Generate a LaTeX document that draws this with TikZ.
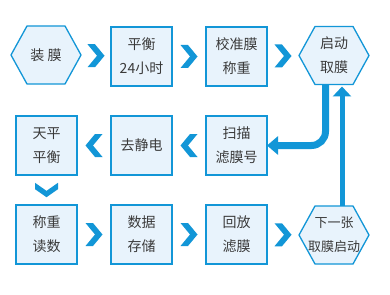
\documentclass[tikz,border=0pt]{standalone}
\usepackage{fontspec}
\setmainfont{Noto Sans CJK SC}
\usetikzlibrary{arrows.meta,calc,backgrounds}
\definecolor{bblue}{RGB}{18,150,215}
\definecolor{bfill}{RGB}{232,243,252}
\definecolor{tgray}{RGB}{58,58,58}
\tikzset{
  boxnode/.style={draw=bblue, fill=bfill, line width=1.3pt, minimum width=61pt, minimum height=59pt,
    inner sep=0pt, outer sep=0pt, align=center, text=tgray, font=\fontsize{14}{24}\selectfont},
  hexnode/.style={minimum width=70pt, minimum height=58pt, inner sep=0pt, outer sep=0pt,
    align=center, text=tgray, font=\fontsize{14}{24}\selectfont},
  hexline/.style={draw=bblue, fill=bfill, line width=1.3pt, line join=miter},
  chev/.pic={\fill[bblue] (-8.5,-11.5) -- (-1,-11.5) -- (8.5,0) -- (-1,11.5) -- (-8.5,11.5) -- (1,0) -- cycle;},
  bigarrow/.style={draw=bblue, line width=7pt, -{Triangle[width=18pt,length=11pt]}},
  bigarrowb/.style={draw=bblue, line width=5pt, -{Triangle[width=18pt,length=10pt]}},
}
\newcommand{\hexpath}[1]{(#1.west) -- ([xshift=16pt]#1.north west) -- ([xshift=-16pt]#1.north east) -- (#1.east) -- ([xshift=-16pt]#1.south east) -- ([xshift=16pt]#1.south west) -- cycle}
\begin{document}
\begin{tikzpicture}[x=1pt,y=-1pt]
\useasboundingbox (0,0) rectangle (390,294);
% row 1
\node[hexnode] (zm) at (46,55) {装 膜};
\node[boxnode] (ph) at (141.5,56.5) {平衡\\24小时};
\node[boxnode] (jz) at (236.5,56.5) {校准膜\\称重};
\node[hexnode] (qm) at (334,55.5) {启动\\取膜};
% row 2
\node[boxnode] (tp) at (46.5,145.5) {天平\\平衡};
\node[boxnode] (qj) at (141.5,145.5) {去静电};
\node[boxnode] (sm) at (236.5,145.5) {扫描\\滤膜号};
% row 3
\node[boxnode] (cz) at (46.5,234.5) {称重\\读数};
\node[boxnode] (sj) at (141.5,234.5) {数据\\存储};
\node[boxnode] (hf) at (236.5,234.5) {回放\\滤膜};
\node[hexnode, font=\fontsize{13}{24}\selectfont] (xz) at (334,235) {下一张\\取膜启动};
\begin{scope}[on background layer]
  \fill[white] (0,0) rectangle (390,294);
  \path[hexline] \hexpath{zm};
  \path[hexline] \hexpath{qm};
  \path[hexline] \hexpath{xz};
\end{scope}
% chevrons
\pic at ($(zm.east)!.5!(ph.west)$) {chev};
\pic at ($(ph.east)!.5!(jz.west)$) {chev};
\pic at ($(jz.east)!.5!(qm.west)$) {chev};
\pic[rotate=180] at ($(tp.east)!.5!(qj.west)$) {chev};
\pic[rotate=180] at ($(qj.east)!.5!(sm.west)$) {chev};
\pic[rotate=-90, xscale=.85] at ($(tp.south)!.5!(cz.north)$) {chev};
\pic at ($(cz.east)!.5!(sj.west)$) {chev};
\pic at ($(sj.east)!.5!(hf.west)$) {chev};
\pic at ($(hf.east)!.5!(xz.west)$) {chev};
% big arrows
\draw[bigarrow, rounded corners=14pt] ($(qm.south)+(-8.5,0)$) |- (sm.east);
\draw[bigarrowb] ($(xz.north)+(8,0)$) -- ($(qm.south)+(8,2)$);
\end{tikzpicture}
\end{document}
